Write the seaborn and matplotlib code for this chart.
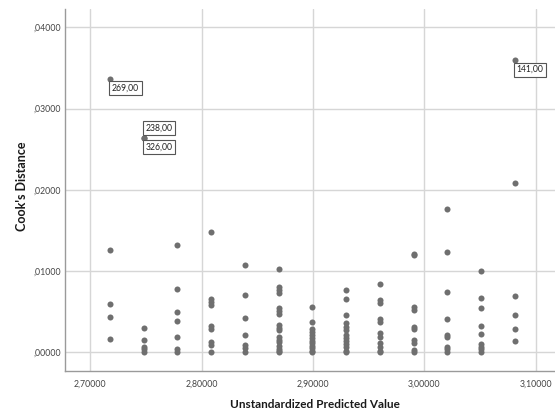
import matplotlib
matplotlib.use("Agg")
import matplotlib.pyplot as plt
from matplotlib.ticker import FuncFormatter, FixedLocator
import seaborn as sns
import pandas as pd

# Distinct predicted values (one column of cases per value)
predicted_levels = [2.7177, 2.7480, 2.7783, 2.8086, 2.8389, 2.8692, 2.8995,
                    2.9298, 2.9601, 2.9904, 3.0207, 3.0510, 3.0813]

# Cook's distance of the cases at each predicted value
cooks_by_level = [
    [0.03364, 0.01257, 0.00593, 0.00433, 0.00170],
    [0.02638, 0.02638, 0.00298, 0.00150, 0.00070, 0.00040, 0.00010],
    [0.01326, 0.00780, 0.00502, 0.00387, 0.00194, 0.00040, 0.00010],
    [0.01482, 0.00654, 0.00617, 0.00580, 0.00330, 0.00293, 0.00125, 0.00092, 0.00010],
    [0.01080, 0.00711, 0.00428, 0.00219, 0.00092, 0.00050, 0.00010],
    [0.01030, 0.00800, 0.00765, 0.00728, 0.00544, 0.00510, 0.00477, 0.00338,
     0.00305, 0.00277, 0.00187, 0.00154, 0.00129, 0.00080, 0.00047, 0.00020, 0.00000],
    [0.00563, 0.00375, 0.00285, 0.00248, 0.00211, 0.00175, 0.00141, 0.00113,
     0.00084, 0.00055, 0.00022, 0.00000],
    [0.00765, 0.00662, 0.00458, 0.00359, 0.00317, 0.00277, 0.00215, 0.00178,
     0.00141, 0.00105, 0.00064, 0.00022, 0.00000],
    [0.00846, 0.00646, 0.00605, 0.00416, 0.00371, 0.00236, 0.00194, 0.00113,
     0.00071, 0.00022, 0.00000],
    [0.01210, 0.01200, 0.00556, 0.00523, 0.00317, 0.00293, 0.00150, 0.00120,
     0.00030, 0.00000],
    [0.01769, 0.01236, 0.00748, 0.00416, 0.00219, 0.00187, 0.00071, 0.00040, 0.00010],
    [0.01002, 0.00674, 0.00547, 0.00322, 0.00228, 0.00105, 0.00071, 0.00040, 0.00000],
    [0.03594, 0.02085, 0.00695, 0.00465, 0.00285, 0.00141],
]

# Labelled influential cases
case_ids = ["269,00", "238,00", "326,00", "141,00"]
case_predicted = [2.7177, 2.7480, 2.7480, 3.0813]
case_cooks = [0.03364, 0.02638, 0.02638, 0.03594]
case_above = [False, True, False, False]

x_ticks = [2.70, 2.80, 2.90, 3.00, 3.10]
y_ticks = [0.00, 0.01, 0.02, 0.03, 0.04]

rows = [(p, c) for p, vals in zip(predicted_levels, cooks_by_level) for c in vals]
df = pd.DataFrame(rows, columns=["Unstandardized Predicted Value", "Cook's Distance"])

sns.set_style("white")
plt.rcParams["font.family"] = ["Lato", "DejaVu Sans"]

fig = plt.figure(figsize=(5.55, 4.12), dpi=100)
ax = fig.add_axes([65 / 555, 41 / 412, 490 / 555, 362 / 412])

sns.scatterplot(data=df, x="Unstandardized Predicted Value", y="Cook's Distance",
                ax=ax, color="#6f6f6f", s=19, linewidth=0, zorder=3)

ax.set_xlim(2.6773, 3.1175)
ax.set_ylim(-0.00228, 0.04225)
ax.xaxis.set_major_locator(FixedLocator(x_ticks))
ax.yaxis.set_major_locator(FixedLocator(y_ticks))


def fmt_x(v, _):
    return f"{v:.5f}".replace(".", ",")


def fmt_y(v, _):
    s = f"{v:.5f}".replace(".", ",")
    return s[1:] if s.startswith("0") else s


ax.xaxis.set_major_formatter(FuncFormatter(fmt_x))
ax.yaxis.set_major_formatter(FuncFormatter(fmt_y))

ax.grid(True, color="#d6d6d6", linewidth=1.0, zorder=0)
ax.set_axisbelow(True)
for side in ("top", "right"):
    ax.spines[side].set_visible(False)
for side in ("left", "bottom"):
    ax.spines[side].set_color("#9a9a9a")
    ax.spines[side].set_linewidth(1.0)

ax.tick_params(axis="both", length=0, labelsize=6.3, labelcolor="#444444")
ax.tick_params(axis="x", pad=6)
ax.tick_params(axis="y", pad=3)

ax.set_xlabel("Unstandardized Predicted Value", fontsize=8.5, fontweight="bold",
              color="#1a1a1a")
ax.set_ylabel("Cook's Distance", fontsize=9, fontweight="bold",
              color="#1a1a1a")
ax.xaxis.label.set_va("center")
ax.yaxis.label.set_va("center")
ax.xaxis.set_label_coords((315 - 65) / 490, (371 - 404) / 362)
ax.yaxis.set_label_coords((22 - 65) / 490, (371 - 186) / 362)

for cid, px, py, above in zip(case_ids, case_predicted, case_cooks, case_above):
    ax.annotate(cid, (px, py), xytext=(1.5, 4.0 if above else -3.5),
                textcoords="offset points", ha="left",
                va="bottom" if above else "top", fontsize=6.2, color="#222222",
                bbox=dict(boxstyle="square,pad=0.3", fc="white", ec="#555555", lw=0.8),
                zorder=4)

fig.savefig("out.png", dpi=100)
